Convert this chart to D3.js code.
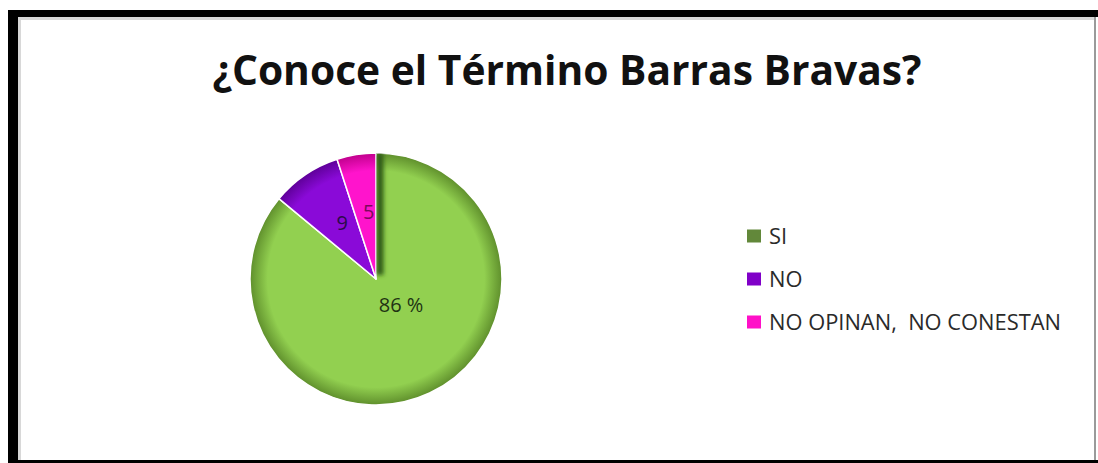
<!DOCTYPE html>
<html>
<head>
<meta charset="utf-8">
<title>Barras Bravas</title>
<script src="https://cdn.jsdelivr.net/npm/d3@7"></script>
<style>
  html, body { margin: 0; padding: 0; background: #fff; }
  svg { display: block; }
  text { font-family: "Open Sans", "Noto Sans", sans-serif; white-space: pre; }
</style>
</head>
<body>
<div id="chart"></div>
<script>
// data
var categories = ["SI", "NO", "NO OPINAN,  NO CONESTAN"];
var values = [86, 9, 5];
var labels = ["86 %", "9", "5"];
var titleText = "\u00BFConoce el T\u00E9rmino Barras Bravas?";

var W = 1098, H = 463;
var sliceColors = ["#92d050", "#8a0ad8", "#ff14cc"];
var rimColors = ["#5f8f2c", "#5e0098", "#c0008c"];
var legendColors = ["#62883a", "#8000c8", "#ff10c8"];
var labelColors = ["#213313", "#2c0a4a", "#7a0a5a"];

var svg = d3.select("#chart").append("svg")
    .attr("width", W)
    .attr("height", H);

var defs = svg.append("defs");

// frame
svg.append("rect").attr("x", 0).attr("y", 0).attr("width", W).attr("height", H).attr("fill", "#fff");
svg.append("rect").attr("x", 18).attr("y", 17).attr("width", 1077).attr("height", 3).attr("fill", "#d8d8d8");
svg.append("rect").attr("x", 18).attr("y", 17).attr("width", 3).attr("height", 443).attr("fill", "#d8d8d8");
svg.append("rect").attr("x", 8).attr("y", 10).attr("width", 1090).attr("height", 7).attr("fill", "#000");
svg.append("rect").attr("x", 8).attr("y", 10).attr("width", 10).attr("height", 453).attr("fill", "#000");
svg.append("rect").attr("x", 8).attr("y", 460).attr("width", 1090).attr("height", 3).attr("fill", "#000");
svg.append("rect").attr("x", 1094).attr("y", 17).attr("width", 2).attr("height", 443).attr("fill", "#9a9a9a");

// fit text width helper
function fit(sel, width) {
    var fs = parseFloat(sel.attr("font-size"));
    var len = sel.node().getComputedTextLength();
    sel.attr("font-size", (fs * width / len).toFixed(2));
}

// title
var title = svg.append("text")
    .attr("x", 567)
    .attr("y", 85)
    .attr("text-anchor", "middle")
    .attr("font-size", 36)
    .attr("font-weight", "bold")
    .attr("fill", "#111")
    .text(titleText);
fit(title, 709);

// pie
var cx = 376, cy = 279, r = 126;

var pie = d3.pie().sort(null).value(function(d){ return d; });
var arcs = pie(values);

var arc = d3.arc().innerRadius(0).outerRadius(r);
var labelArc = d3.arc().innerRadius(r * 0.52).outerRadius(r * 0.52);
var bigLabelArc = d3.arc().innerRadius(r * 0.3).outerRadius(r * 0.3);

sliceColors.forEach(function(c, i){
    var g = defs.append("radialGradient")
        .attr("id", "grad" + i)
        .attr("gradientUnits", "userSpaceOnUse")
        .attr("cx", 0).attr("cy", 0).attr("r", r);
    g.append("stop").attr("offset", "0%").attr("stop-color", c);
    g.append("stop").attr("offset", "86%").attr("stop-color", c);
    g.append("stop").attr("offset", "100%").attr("stop-color", rimColors[i]);
});

defs.append("filter").attr("id", "blur")
    .attr("filterUnits", "userSpaceOnUse")
    .attr("x", -r).attr("y", -r).attr("width", 2 * r).attr("height", 2 * r)
    .append("feGaussianBlur").attr("stdDeviation", 2);

defs.append("clipPath").attr("id", "pieClip")
    .append("path").attr("d", arc(arcs[0]));

var pg = svg.append("g").attr("transform", "translate(" + cx + "," + cy + ")");

pg.selectAll("path.slice")
    .data(arcs)
    .enter()
    .append("path")
    .attr("class", "slice")
    .attr("d", arc)
    .attr("fill", function(d, i){ return "url(#grad" + i + ")"; })
    .attr("stroke", "#fff")
    .attr("stroke-width", 1.5)
    .attr("stroke-linejoin", "round");

// bevel shadow along the start edge of the big slice
var a0 = arcs[0].startAngle;
pg.append("g")
    .attr("clip-path", "url(#pieClip)")
    .append("line")
    .attr("x1", 4)
    .attr("y1", -4)
    .attr("x2", Math.sin(a0) * r + 4)
    .attr("y2", -Math.cos(a0) * r)
    .attr("stroke", "#2f5a12")
    .attr("stroke-width", 7)
    .attr("filter", "url(#blur)");

pg.selectAll("text.lbl")
    .data(arcs)
    .enter()
    .append("text")
    .attr("class", "lbl")
    .attr("transform", function(d){
        var c = d.value > 50 ? bigLabelArc.centroid(d) : labelArc.centroid(d);
        return "translate(" + c[0] + "," + c[1] + ")";
    })
    .attr("text-anchor", "middle")
    .attr("dx", function(d){ return d.value > 50 ? 9 : 3; })
    .attr("dy", function(d){ return d.value > 50 ? "-0.05em" : "0.25em"; })
    .attr("font-size", 20)
    .attr("fill", function(d, i){ return labelColors[i]; })
    .text(function(d, i){ return labels[i]; });

// legend
var legendY = d3.scalePoint().domain(categories).range([236, 322]);
var lg = svg.append("g");
var items = lg.selectAll("g.item")
    .data(categories)
    .enter()
    .append("g")
    .attr("class", "item")
    .attr("transform", function(d){ return "translate(747," + legendY(d) + ")"; });

items.append("rect")
    .attr("x", 0)
    .attr("y", -6.5)
    .attr("width", 14)
    .attr("height", 13)
    .attr("fill", function(d, i){ return legendColors[i]; });

var ltexts = items.append("text")
    .attr("x", 22)
    .attr("dy", "0.36em")
    .attr("font-size", 19)
    .attr("fill", "#2a2a2a")
    .text(function(d){ return d; });

fit(d3.select(ltexts.nodes()[2]), 292);
var lfs = d3.select(ltexts.nodes()[2]).attr("font-size");
ltexts.attr("font-size", lfs);
</script>
</body>
</html>
